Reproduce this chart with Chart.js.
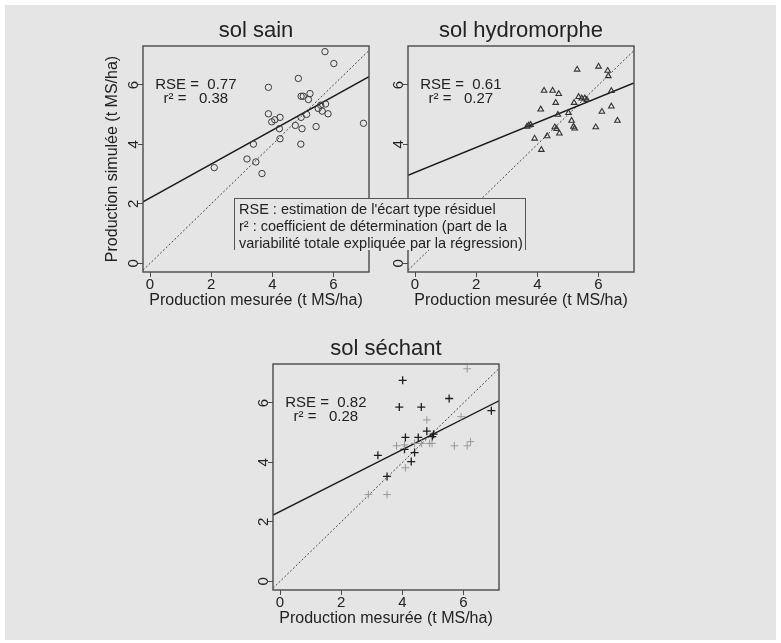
<!DOCTYPE html>
<html><head><meta charset="utf-8">
<script src="https://cdn.jsdelivr.net/npm/chart.js@4"></script>
<style>
html,body{margin:0;padding:0;background:#fff;width:781px;height:643px;overflow:hidden;}
#bg{position:absolute;left:5px;top:5px;width:771px;height:635px;background:#e5e5e5;}
canvas{position:absolute;}
#legend{position:absolute;left:234px;top:198px;width:292px;height:52px;background:#e5e5e5;border:1px solid #555;border-bottom:none;
 font:14.5px "Liberation Sans",Arial,sans-serif;color:#222;line-height:17px;padding:2px 0 0 4px;box-sizing:border-box;white-space:nowrap;z-index:5;}
</style></head><body>
<div id="bg"></div>
<canvas id="c1" width="298" height="311" style="left:83px;top:6px;width:298px;height:311px"></canvas>
<canvas id="c2" width="298" height="311" style="left:348px;top:6px;width:298px;height:311px"></canvas>
<canvas id="c3" width="298" height="311" style="left:213px;top:324px;width:298px;height:311px"></canvas>
<div id="legend">RSE : estimation de l'écart type résiduel<br>r² : coefficient de détermination (part de la<br>variabilité totale expliquée par la régression)</div>
<script>
// ---- axes ----
const tickVals = [0, 2, 4, 6];
const xRange = [-0.23, 7.16];
const yRange = [-0.29, 7.31];

// ---- sol sain ----
const sainX = [5.72, 6.01, 4.85, 3.87, 4.94, 5.01, 5.23, 5.18, 5.58, 5.74, 5.50, 5.63, 5.82, 3.87, 3.98, 4.08, 4.25, 4.23, 4.25, 4.75, 4.97, 4.94, 5.12, 5.43, 6.98, 4.93, 3.38, 3.17, 3.46, 3.66, 2.10];
const sainY = [7.12, 6.72, 6.22, 5.92, 5.62, 5.62, 5.71, 5.51, 5.32, 5.36, 5.21, 5.12, 5.03, 5.03, 4.76, 4.83, 4.91, 4.53, 4.19, 4.64, 4.53, 4.91, 5.01, 4.60, 4.71, 4.01, 4.01, 3.51, 3.41, 3.02, 3.22];
const regSain = [2.20, 0.57];
const statsSain = ['RSE =  0.77', 'r² =   0.38'];

// ---- sol hydromorphe ----
const hydroX = [5.30, 6.00, 6.30, 6.32, 4.22, 4.50, 4.70, 4.60, 4.11, 6.42, 5.20, 5.35, 5.45, 5.55, 5.62, 4.67, 5.02, 3.66, 3.72, 3.78, 4.57, 4.63, 4.72, 4.32, 3.91, 4.13, 5.12, 5.18, 5.22, 5.91, 6.11, 6.42, 6.62];
const hydroY = [6.52, 6.62, 6.48, 6.30, 5.81, 5.81, 5.70, 5.40, 5.18, 5.80, 5.40, 5.60, 5.55, 5.55, 5.50, 5.00, 5.06, 4.60, 4.64, 4.66, 4.58, 4.52, 4.37, 4.28, 4.20, 3.82, 4.80, 4.60, 4.54, 4.58, 5.10, 5.28, 4.80];
const regHydro = [3.06, 0.42];
const statsHydro = ['RSE =  0.61', 'r² =   0.27'];

// ---- sol séchant ----
const sechX = [4.01, 5.53, 3.90, 4.62, 6.91, 4.80, 5.02, 4.98, 4.10, 4.52, 4.07, 4.40, 3.20, 4.29, 3.50];
const sechY = [6.76, 6.15, 5.86, 5.86, 5.74, 5.05, 4.95, 4.87, 4.84, 4.84, 4.44, 4.33, 4.24, 4.03, 3.53];
const sechLightX = [6.12, 4.80, 5.92, 3.81, 4.07, 4.40, 4.63, 4.89, 4.97, 5.70, 6.12, 6.23, 4.10, 2.89, 3.50];
const sechLightY = [7.15, 5.43, 5.54, 4.56, 4.59, 4.64, 4.64, 4.64, 4.64, 4.56, 4.56, 4.70, 3.82, 2.92, 2.92];
const regSech = [2.35, 0.52];
const statsSech = ['RSE =  0.82', 'r² =   0.28'];

const statPos = [1.5, 6.0, 5.52];

const FONT = '"Liberation Sans", Arial, Helvetica, sans-serif';
const INK = '#222';
const BOX = '#4a4a4a';

const pts = (xs, ys) => xs.map((x, i) => ({x, y: ys[i]}));
const lineFrom = (r) => [{x: xRange[0], y: r[0] + r[1] * xRange[0]}, {x: xRange[1], y: r[0] + r[1] * xRange[1]}];

const deco = {
  id: 'deco',
  afterDraw(chart) {
    const {ctx, chartArea: a, scales} = chart;
    ctx.save();
    ctx.strokeStyle = BOX; ctx.lineWidth = 1.4;
    ctx.strokeRect(a.left, a.top, a.right - a.left, a.bottom - a.top);
    const st = chart.options.plugins.deco.stats;
    ctx.fillStyle = INK; ctx.font = '15px ' + FONT;
    ctx.textAlign = 'center'; ctx.textBaseline = 'middle';
    const cx = scales.x.getPixelForValue(statPos[0]);
    ctx.fillText(st[0], cx, scales.y.getPixelForValue(statPos[1]));
    ctx.fillText(st[1], cx, scales.y.getPixelForValue(statPos[2]));
    ctx.restore();
  }
};

function makePanel(id, title, datasets, reg, stats, yTitle) {
  const all = datasets.concat([
    {type: 'line', data: lineFrom(reg), borderColor: '#1a1a1a', borderWidth: 1.4, pointRadius: 0, fill: false},
    {type: 'line', data: [{x: xRange[0], y: xRange[0]}, {x: yRange[1], y: yRange[1]}], borderColor: '#444', borderWidth: 1, borderDash: [2, 2], pointRadius: 0, fill: false}
  ]);
  return new Chart(document.getElementById(id), {
    type: 'scatter',
    data: {datasets: all},
    plugins: [deco],
    options: {
      responsive: false, animation: false, devicePixelRatio: 1,
      layout: {padding: {left: 0, right: 12, top: 0, bottom: 0}},
      plugins: {
        legend: {display: false}, tooltip: {enabled: false},
        title: {display: true, text: title, fullSize: false, color: INK,
          font: {family: FONT, size: 22, weight: 'normal'}, padding: {top: 11.8, bottom: 1.8}},
        deco: {stats}
      },
      scales: {
        x: {type: 'linear', min: xRange[0], max: xRange[1],
          afterBuildTicks: s => { s.ticks = tickVals.map(v => ({value: v})); },
          afterFit: s => { s.height = 45; },
          grid: {drawOnChartArea: false, drawTicks: true, tickLength: 5, color: BOX, tickWidth: 1},
          border: {display: false},
          ticks: {color: INK, font: {family: FONT, size: 15}, padding: -1, maxRotation: 0, autoSkip: false},
          title: {display: true, text: 'Production mesurée (t MS/ha)', color: INK, font: {family: FONT, size: 16}, padding: {top: 0, bottom: 6.4}}
        },
        y: {type: 'linear', min: yRange[0], max: yRange[1],
          afterBuildTicks: s => { s.ticks = tickVals.map(v => ({value: v})); },
          afterFit: s => { s.width = 60; },
          grid: {drawOnChartArea: false, drawTicks: true, tickLength: 5, color: BOX, tickWidth: 1},
          border: {display: false},
          ticks: {color: INK, font: {family: FONT, size: 15}, padding: 0, minRotation: 90, maxRotation: 90, crossAlign: 'center', autoSkip: false},
          title: {display: !!yTitle, text: yTitle || '', color: INK, font: {family: FONT, size: 16}, padding: {top: 20.4, bottom: 0}}
        }
      }
    }
  });
}

makePanel('c1', 'sol sain', [
  {data: pts(sainX, sainY), pointStyle: 'circle', pointRadius: 3.2, borderWidth: 1, borderColor: '#3a3a3a', backgroundColor: 'rgba(0,0,0,0)'}
], regSain, statsSain, 'Production simulée (t MS/ha)');

makePanel('c2', 'sol hydromorphe', [
  {data: pts(hydroX, hydroY), pointStyle: 'triangle', pointRadius: 3.2, borderWidth: 1.1, borderColor: '#333', backgroundColor: 'rgba(0,0,0,0)'}
], regHydro, statsHydro, null);

makePanel('c3', 'sol séchant', [
  {data: pts(sechLightX, sechLightY), pointStyle: 'cross', pointRadius: 3.8, borderWidth: 1, borderColor: '#999'},
  {data: pts(sechX, sechY), pointStyle: 'cross', pointRadius: 4, borderWidth: 1.3, borderColor: '#1e1e1e'}
], regSech, statsSech, null);
</script>
</body></html>
